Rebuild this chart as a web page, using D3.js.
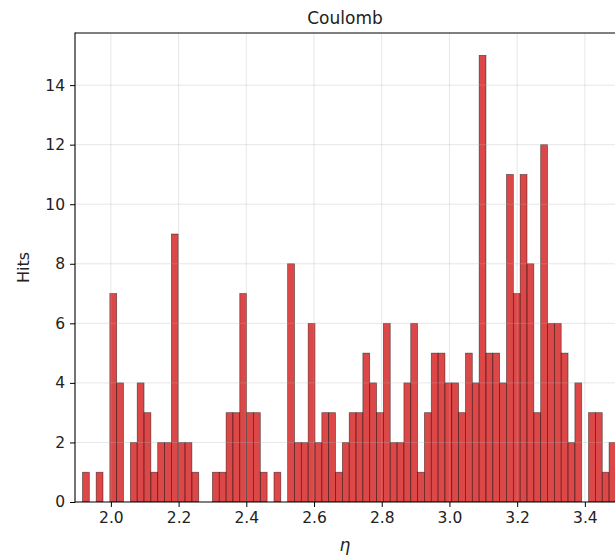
<!DOCTYPE html>
<html>
<head>
<meta charset="utf-8">
<script src="https://cdn.jsdelivr.net/npm/d3@7/dist/d3.min.js"></script>
<style>
  html, body { margin: 0; padding: 0; background: #fff; }
  svg { display: block; font-family: "DejaVu Sans", sans-serif; }
</style>
</head>
<body>
<svg id="chart" width="615" height="558"></svg>
<script>
// ---- data ----
const title = "Coulomb";
const xLabel = "η";
const yLabel = "Hits";
const binStart = 1.9161;
const binWidth = 0.0202;
const counts = [
  1, 0, 1, 0, 7, 4, 0, 2, 4, 3,
  1, 2, 2, 9, 2, 2, 1, 0, 0, 1,
  1, 3, 3, 7, 3, 3, 1, 0, 1, 0,
  8, 2, 2, 6, 2, 3, 3, 1, 2, 3,
  3, 5, 4, 3, 6, 2, 2, 4, 6, 1,
  3, 5, 5, 4, 4, 3, 5, 4, 15, 5,
  5, 4, 11, 7, 11, 8, 3, 12, 6, 6,
  5, 2, 4, 0, 3, 3, 1, 2
];
const xTicks = [2.0, 2.2, 2.4, 2.6, 2.8, 3.0, 3.2, 3.4];
const yTicks = [0, 2, 4, 6, 8, 10, 12, 14];
const xDomain = [1.894, 3.489];
const yDomain = [0, 15.75];

// ---- layout ----
const pL = 75, pR = 615, pT = 33, pB = 502;
const svg = d3.select("#chart");

const x = d3.scaleLinear().domain(xDomain).range([pL, pR]);
const y = d3.scaleLinear().domain(yDomain).range([pB, pT]);

const bins = counts.map((c, i) => ({
  x0: binStart + i * binWidth,
  x1: binStart + (i + 1) * binWidth,
  count: c
}));

svg.append("defs").append("clipPath").attr("id", "plotclip")
  .append("rect").attr("x", pL).attr("y", pT)
  .attr("width", pR - pL + 2).attr("height", pB - pT);

const plot = svg.append("g").attr("clip-path", "url(#plotclip)");

// bars
plot.selectAll("rect.bar")
  .data(bins.filter(d => d.count > 0))
  .join("rect")
  .attr("class", "bar")
  .attr("x", d => x(d.x0))
  .attr("y", d => y(d.count))
  .attr("width", d => x(d.x1) - x(d.x0))
  .attr("height", d => y(0) - y(d.count))
  .attr("fill", "#d62728")
  .attr("fill-opacity", 0.85)
  .attr("stroke", "#000")
  .attr("stroke-opacity", 0.55)
  .attr("stroke-width", 0.7);

// grid (drawn over bars, translucent)
const grid = plot.append("g");
grid.selectAll("line.vg").data(xTicks).join("line")
  .attr("x1", d => x(d)).attr("x2", d => x(d))
  .attr("y1", pT).attr("y2", pB)
  .attr("stroke", "#b0b0b0").attr("stroke-opacity", 0.35).attr("stroke-width", 0.9);
grid.selectAll("line.hg").data(yTicks.filter(d => d > 0)).join("line")
  .attr("x1", pL).attr("x2", pR + 2)
  .attr("y1", d => y(d)).attr("y2", d => y(d))
  .attr("stroke", "#b0b0b0").attr("stroke-opacity", 0.35).attr("stroke-width", 0.9);

// axes
const xAxis = d3.axisBottom(x).tickValues(xTicks).tickFormat(d3.format(".1f"))
  .tickSize(5).tickPadding(5);
const yAxis = d3.axisLeft(y).tickValues(yTicks).tickFormat(d3.format("d"))
  .tickSize(5).tickPadding(5);

const gx = svg.append("g").attr("transform", `translate(0,${pB})`).call(xAxis);
const gy = svg.append("g").attr("transform", `translate(${pL},0)`).call(yAxis);
[gx, gy].forEach(g => {
  g.select(".domain").remove();
  g.selectAll(".tick line").attr("stroke", "#000").attr("stroke-width", 1);
  g.selectAll(".tick text").attr("fill", "#222").style("font-size", "15.5px")
    .style("font-family", "'DejaVu Sans', sans-serif");
});

// spines
svg.append("line").attr("x1", pL).attr("x2", pL).attr("y1", pT - 0.5).attr("y2", pB + 0.5)
  .attr("stroke", "#000").attr("stroke-width", 1.1);
svg.append("line").attr("x1", pL).attr("x2", pR + 2).attr("y1", pB).attr("y2", pB)
  .attr("stroke", "#000").attr("stroke-width", 1.1);
svg.append("line").attr("x1", pL).attr("x2", pR + 2).attr("y1", pT).attr("y2", pT)
  .attr("stroke", "#000").attr("stroke-width", 1.1);

// title & labels
svg.append("text").attr("x", (pL + pR) / 2).attr("y", 24)
  .attr("text-anchor", "middle").attr("fill", "#222")
  .style("font-size", "17px").text(title);

svg.append("text").attr("x", (pL + pR) / 2).attr("y", 551)
  .attr("text-anchor", "middle").attr("fill", "#222")
  .style("font-size", "17px").style("font-style", "italic").text(xLabel);

svg.append("text")
  .attr("transform", `translate(29,${(pT + pB) / 2}) rotate(-90)`)
  .attr("text-anchor", "middle").attr("fill", "#222")
  .style("font-size", "16px").text(yLabel);
</script>
</body>
</html>
